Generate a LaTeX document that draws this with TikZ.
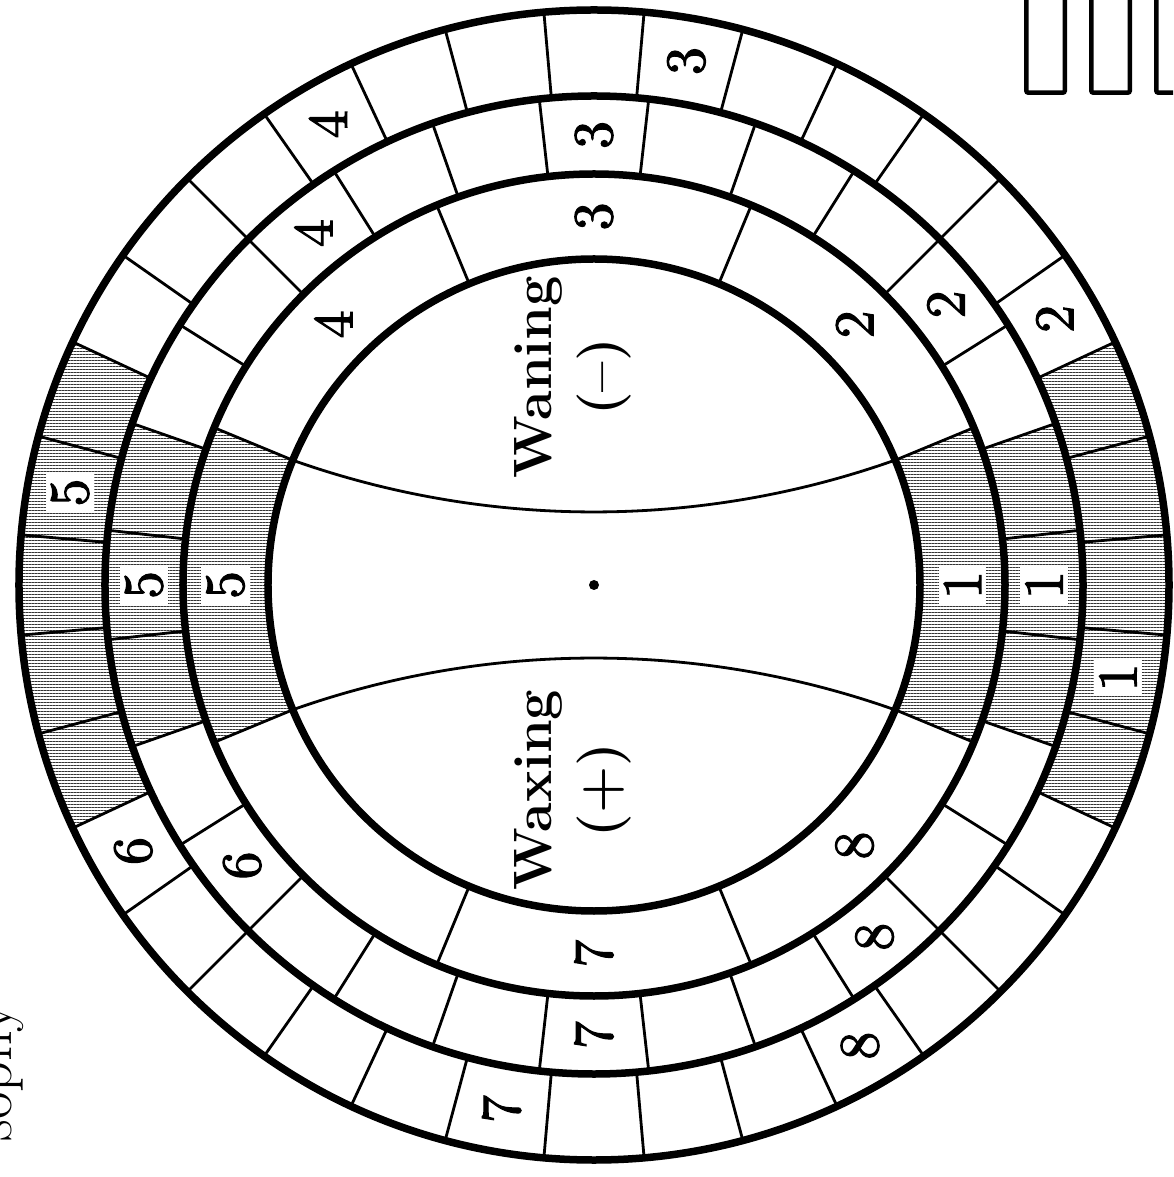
\documentclass[tikz,border=0pt]{standalone}
\usepackage{fontspec}
\newfontfamily\numfont{lmroman10-regular.otf}[FakeBold=2]
\usepackage{tikz}
\usetikzlibrary{patterns.meta}

% one cell of a ring: start angle, end angle, inner radius, outer radius
\newcommand{\annsec}[4]{(#1:#3) arc[start angle=#1,end angle=#2,radius=#3] -- (#2:#4) arc[start angle=#2,end angle=#1,radius=#4] -- cycle}
\def\rA{326pt}
\def\rB{411pt}
\def\rC{489pt}
\def\rD{575pt}

\begin{document}
\begin{tikzpicture}[x=1pt,y=1pt,
  ring/.style={line width=7.5pt},
  spoke/.style={line width=2.8pt},
  hatch/.style={pattern={Lines[angle=0,distance=3pt,line width=1pt]},pattern color=black!80},
  num/.style={rotate=90,inner sep=5pt,font=\numfont\fontsize{56}{56}\selectfont},
  numbox/.style={num,fill=white},
  word/.style={rotate=90,align=center,font=\bfseries\fontsize{54}{66}\selectfont}]
\clip (-594,585) rectangle (579,-592);

%Shaded cells (new and full moon)
\path[hatch] \annsec{-22.5}{22.5}{\rA}{\rB};
\path[hatch] \annsec{157.5}{202.5}{\rA}{\rB};
\path[hatch] \annsec{-19.2857}{19.2857}{\rB}{\rC};
\path[hatch] \annsec{160.7143}{199.2857}{\rB}{\rC};
\path[hatch] \annsec{-25}{25}{\rC}{\rD};
\path[hatch] \annsec{155}{205}{\rC}{\rD};

%Spokes of the three rings
\foreach \a in {22.5,67.5,...,337.5}
  \draw[spoke] (\a:\rA) -- (\a:\rB);
\foreach \k in {0,...,27}
  \draw[spoke] ({45+\k*360/28}:\rB) -- ({45+\k*360/28}:\rC);
\foreach \a in {5,15,...,355}
  \draw[spoke] (\a:\rC) -- (\a:\rD);

%Circles
\foreach \r in {\rA,\rB,\rC,\rD}
  \draw[ring] (0,0) circle[radius=\r];

%Curves in the middle
\draw[spoke] (157.5:\rA) arc[start angle=250.5,end angle=289.5,radius=901.6pt];
\draw[spoke] (202.5:\rA) arc[start angle=109.5,end angle=70.5,radius=901.6pt];
\fill (0,0) circle[radius=5pt];

% Text Node
\foreach \a/\t in {0/1,180/5}
  \node[numbox] (in\t) at (\a:368.5pt) {\t};
\foreach \a/\t in {45/2,90/3,135/4,270/7,315/8}
  \node[num] (in\t) at (\a:368.5pt) {\t};
% Text Node
\foreach \a/\t in {0/1,180/5}
  \node[numbox] (mid\t) at (\a:450pt) {\t};
\foreach \a/\t in {38.57/2,90/3,128.57/4,218.57/6,270/7,308.57/8}
  \node[num] (mid\t) at (\a:450pt) {\t};
% Text Node
\foreach \a/\t in {350/1,170/5}
  \node[numbox] (out\t) at (\a:532pt) {\t};
\foreach \a/\t in {30/2,80/3,120/4,210/6,260/7,300/8}
  \node[num] (out\t) at (\a:532pt) {\t};

% Text Node
\node[word] (waning) at (-21,208) {Waning\\(\textendash)};
\node[word] (waxing) at (-21,-205) {Waxing\\(+)};
\node[rotate=90,anchor=base east,font=\fontsize{60}{60}\selectfont] (title) at (-582,-415) {sophy};

%Boxes top right
\foreach \x in {432.3,497.3,562.3}
  \draw[line width=4.5pt,rounded corners=2pt] (\x,640) rectangle ++(38.5,-147.7);
\end{tikzpicture}
\end{document}
